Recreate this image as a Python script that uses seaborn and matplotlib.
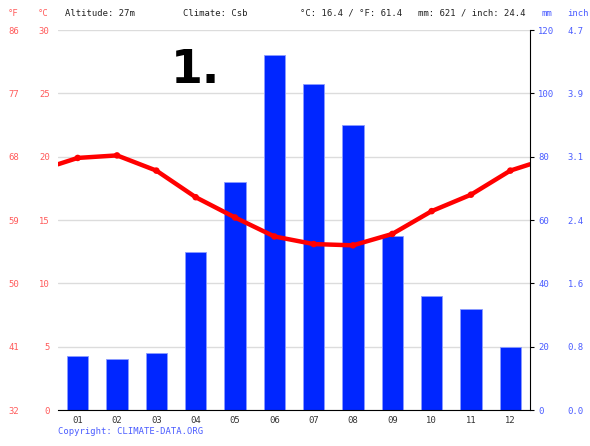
import matplotlib
matplotlib.use("Agg")
import matplotlib.pyplot as plt
import numpy as np
import pandas as pd
import seaborn as sns

months = ["01", "02", "03", "04", "05", "06", "07", "08", "09", "10", "11", "12"]
precip_mm = [17, 16, 18, 50, 72, 112, 103, 90, 55, 36, 32, 20]
temp_c = [19.9, 20.1, 18.9, 16.8, 15.2, 13.7, 13.1, 13.0, 13.9, 15.7, 17.0, 18.9]
c_ticks = [0, 5, 10, 15, 20, 25, 30]
mm_ticks = [0, 20, 40, 60, 80, 100, 120]
header = ["Altitude: 27m", "Climate: Csb", "°C: 16.4 / °F: 61.4", "mm: 621 / inch: 24.4"]

sns.set_theme(style="white")
plt.rcParams["font.family"] = ["DejaVu Sans Mono"]
FS = 6.4
RED = "#ff0000"
RED_LBL = "#ff5a5a"
BLUE = "#0026ff"
BLUE_LBL = "#4a5cff"

fig = plt.figure(figsize=(5.9, 4.46), dpi=100)
ax = fig.add_axes([58 / 590, 36 / 446, 472 / 590, 380 / 446])

df_bar = pd.DataFrame({"month": months, "mm": precip_mm})
sns.barplot(data=df_bar, x="month", y="mm", color=BLUE, saturation=1,
            width=0.54, edgecolor="#8c9cff", linewidth=0.6, ax=ax)
ax.set_ylim(0, 120)
ax.set_xlim(-0.5, 11.5)
ax.set_xlabel("")
ax.set_ylabel("")

# temperature axis (twinx resets ax ticks to the left, so set ax's y side afterwards)
ax2 = ax.twinx()

ax.yaxis.tick_right()
ax.set_yticks(mm_ticks)
ax.set_yticklabels([str(v) for v in mm_ticks], color=BLUE_LBL, fontsize=FS)
ax.tick_params(axis="y", which="both", left=False, labelleft=False, right=True, labelright=True,
               direction="out", length=3, width=0.8, color="black", pad=3)
ax.yaxis.grid(True, color="#dcdcdc", linewidth=1)
ax.set_axisbelow(True)

# month labels at centres, tick marks at month boundaries
ax.set_xticks(np.arange(12))
ax.set_xticklabels(months, fontsize=FS, color="#333333")
ax.set_xticks(np.arange(-0.5, 12, 1), minor=True)
ax.tick_params(axis="x", which="major", length=0, pad=4)
ax.tick_params(axis="x", which="minor", length=3, width=0.8, color="black", direction="out")

for s in ["top", "left", "right"]:
    ax.spines[s].set_visible(False)
ax.spines["bottom"].set_color("black")
ax.spines["bottom"].set_linewidth(0.8)

# inch labels
sec_in = ax.secondary_yaxis(1.08, functions=(lambda m: m / 25.4, lambda i: i * 25.4))
sec_in.set_yticks([m / 25.4 for m in mm_ticks])
sec_in.set_yticklabels([f"{m / 25.4:.1f}" for m in mm_ticks], color=BLUE_LBL, fontsize=FS)
sec_in.tick_params(length=0, pad=0)
for sp in sec_in.spines.values():
    sp.set_visible(False)

# temperature line, wrapped to the plot edges
edge = (temp_c[-1] + temp_c[0]) / 2
df_line = pd.DataFrame({"x": [-0.5] + list(range(12)) + [11.5],
                        "t": [edge] + temp_c + [edge]})
sns.lineplot(data=df_line, x="x", y="t", color=RED, linewidth=3.2, ax=ax2)
sns.scatterplot(x=np.arange(12), y=temp_c, color=RED, s=22, edgecolor="none", ax=ax2)
ax2.set_ylim(0, 30)
ax2.set_xlim(-0.5, 11.5)
ax2.set_xlabel("")
ax2.set_ylabel("")
ax2.yaxis.tick_left()
ax2.set_yticks(c_ticks)
ax2.set_yticklabels([str(v) for v in c_ticks], color=RED_LBL, fontsize=FS)
ax2.tick_params(axis="y", length=0, pad=6)
for s in ["top", "left", "bottom"]:
    ax2.spines[s].set_visible(False)
ax2.spines["right"].set_color("black")
ax2.spines["right"].set_linewidth(0.8)

sec_f = ax2.secondary_yaxis(-0.083, functions=(lambda c: c * 9 / 5 + 32, lambda f: (f - 32) * 5 / 9))
sec_f.set_yticks([c * 9 / 5 + 32 for c in c_ticks])
sec_f.set_yticklabels([f"{c * 9 / 5 + 32:.0f}" for c in c_ticks], color=RED_LBL, fontsize=FS)
sec_f.tick_params(length=0, pad=0)
for sp in sec_f.spines.values():
    sp.set_visible(False)

# unit headers
for x, lbl, col in [(13, "°F", RED_LBL), (43, "°C", RED_LBL), (547, "mm", BLUE_LBL), (578, "inch", BLUE_LBL)]:
    fig.text(x / 590, 1 - 13 / 446, lbl, ha="center", va="center", color=col, fontsize=FS)

for x, txt in zip([65, 183, 300, 418], header):
    fig.text(x / 590, 1 - 13 / 446, txt, ha="left", va="center", color="#222222", fontsize=FS)

fig.text(58 / 590, 1 - 432 / 446, "Copyright: CLIMATE-DATA.ORG", ha="left", va="center",
         color=BLUE_LBL, fontsize=FS)

fig.text(171 / 590, 1 - 83 / 446, "1.", ha="left", va="baseline", color="black",
         fontsize=33, fontweight="heavy", family="DejaVu Sans")

fig.savefig("out.png", dpi=100)
